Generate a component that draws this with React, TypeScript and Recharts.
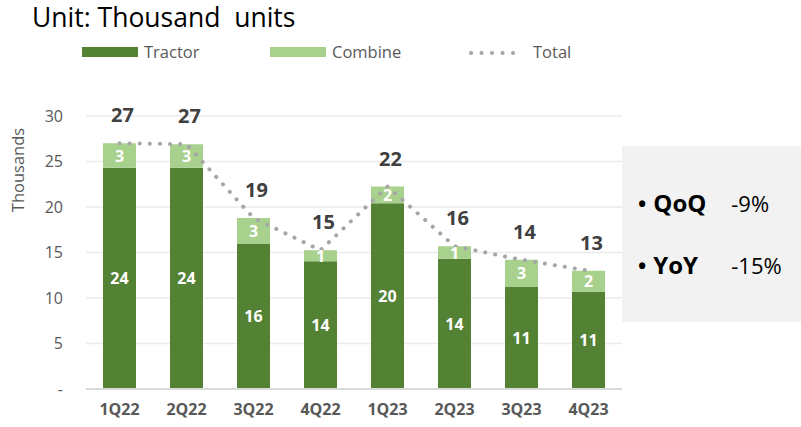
import React from 'react';
import { ComposedChart, Bar, Line, XAxis, YAxis, CartesianGrid, LabelList } from 'recharts';

const quarters = ['1Q22', '2Q22', '3Q22', '4Q22', '1Q23', '2Q23', '3Q23', '4Q23'];
const tractor = [24.3, 24.3, 16.0, 14.05, 20.4, 14.3, 11.2, 10.7];
const combine = [2.7, 2.6, 2.8, 1.2, 1.85, 1.4, 3.0, 2.3];
const yTicks = [0, 5, 10, 15, 20, 25, 30];
const summary = [
  { label: 'QoQ', value: '-9%' },
  { label: 'YoY', value: '-15%' },
];

const data = quarters.map((q, i) => ({
  q,
  tractor: tractor[i],
  combine: combine[i],
  total: +(tractor[i] + combine[i]).toFixed(2),
}));

const FONT = '"Open Sans", "Noto Sans", sans-serif';
const DARK = '#548235';
const LIGHT = '#a9d18e';
const DOT = '#a6a6a6';

const TotalLabel = (props: any) => {
  const { x, y, value } = props;
  return (
    <text x={x + 3} y={y - 21} textAnchor="middle" fill="#404040" fontFamily={FONT} fontWeight={700} fontSize={20}>
      {Math.round(value)}
    </text>
  );
};

const SegLabel = (props: any) => {
  const { x, y, width, height, value } = props;
  return (
    <text x={x + width / 2} y={y + height / 2 + 6} textAnchor="middle" fill="#ffffff" fontFamily={FONT} fontWeight={700} fontSize={16}>
      {Math.round(value)}
    </text>
  );
};

export default function App() {
  return (
    <div style={{ position: 'absolute', left: 0, top: 0, width: 801, height: 427, background: '#fff', fontFamily: FONT }}>
      <div style={{ position: 'absolute', left: 32, top: 0, fontSize: 26.5, color: '#000', whiteSpace: 'pre', lineHeight: '34px' }}>
        Unit: Thousand  units
      </div>
      <svg style={{ position: 'absolute', left: 0, top: 40 }} width={620} height={26}>
        <rect x={82} y={7} width={56} height={10} fill={DARK} />
        <text x={144} y={18} fontSize={16.5} fill="#595959" fontFamily={FONT}>Tractor</text>
        <rect x={270} y={7} width={56} height={10} fill={LIGHT} />
        <text x={332} y={18} fontSize={16.5} fill="#595959" fontFamily={FONT}>Combine</text>
        <line x1={471} y1={13} x2={523} y2={13} stroke={DOT} strokeWidth={4} strokeLinecap="round" strokeDasharray="0.1 10.4" />
        <text x={533} y={18} fontSize={16.5} fill="#595959" fontFamily={FONT}>Total</text>
      </svg>
      <div style={{ position: 'absolute', left: 0, top: 0 }}>
        <ComposedChart width={801} height={427} data={data} margin={{ top: 116, right: 179, bottom: 8, left: 0 }}>
          <CartesianGrid vertical={false} stroke="#ebebeb" strokeWidth={1.5} />
          <XAxis
            dataKey="q"
            height={30}
            tickLine={false}
            tickSize={0}
            tickMargin={15}
            axisLine={{ stroke: '#d9d9d9', strokeWidth: 2 }}
            tick={{ fill: '#595959', fontSize: 16, fontWeight: 700, fontFamily: FONT }}
          />
          <YAxis
            width={86}
            domain={[0, 30]}
            ticks={yTicks}
            axisLine={false}
            tickLine={false}
            tickSize={0}
            tickMargin={23}
            tick={{ fill: '#595959', fontSize: 16, fontFamily: FONT }}
            tickFormatter={(v: number) => (v === 0 ? '-' : String(v))}
          />
          <Bar dataKey="tractor" stackId="a" fill={DARK} barSize={33} isAnimationActive={false}>
            <LabelList dataKey="tractor" content={SegLabel} />
          </Bar>
          <Bar dataKey="combine" stackId="a" fill={LIGHT} barSize={33} isAnimationActive={false}>
            <LabelList dataKey="combine" content={SegLabel} />
          </Bar>
          <Line
            dataKey="total"
            type="linear"
            stroke={DOT}
            strokeWidth={4}
            strokeLinecap="round"
            strokeDasharray="0.1 10"
            dot={false}
            activeDot={false}
            isAnimationActive={false}
          >
            <LabelList dataKey="total" content={TotalLabel} />
          </Line>
        </ComposedChart>
      </div>
      <svg style={{ position: 'absolute', left: 0, top: 0, pointerEvents: 'none' }} width={801} height={427}>
        <text transform="translate(24,170) rotate(-90)" textAnchor="middle" fontSize={16.5} fill="#595959" fontFamily={FONT}>
          Thousands
        </text>
      </svg>
      <div style={{ position: 'absolute', left: 622, top: 146, width: 179, height: 176, background: '#f2f2f2' }}>
        {summary.map((s, i) => (
          <div key={s.label} style={{ position: 'absolute', left: 16, top: 41 + i * 62, whiteSpace: 'nowrap', lineHeight: '32px', color: '#000' }}>
            <span style={{ fontSize: 22, fontWeight: 700 }}>•</span>
            <span style={{ fontSize: 24, fontWeight: 700, marginLeft: 7, display: 'inline-block', width: 78 }}>{s.label}</span>
            <span style={{ fontSize: 22, fontWeight: 400 }}>{s.value}</span>
          </div>
        ))}
      </div>
    </div>
  );
}
